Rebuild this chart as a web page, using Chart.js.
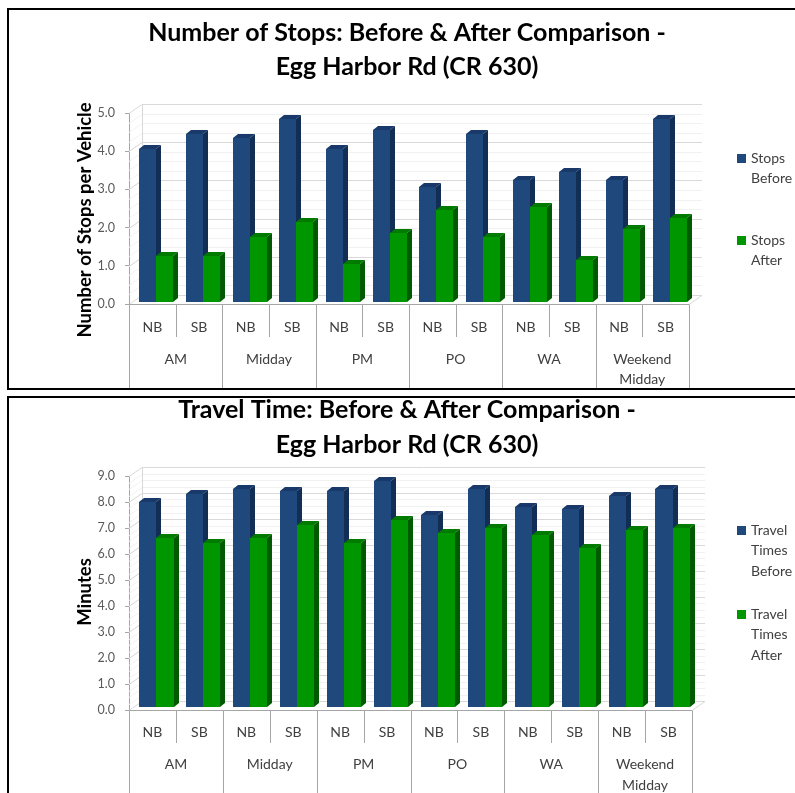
<!DOCTYPE html>
<html>
<head>
<meta charset="utf-8">
<script src="https://cdn.jsdelivr.net/npm/chart.js@4.4.1/dist/chart.umd.min.js"></script>
<style>
  html, body { margin: 0; padding: 0; background: #fff; width: 795px; height: 793px; overflow: hidden; }
  canvas { position: absolute; left: 0; }
  #c1 { top: 0; }
  #c2 { top: 392px; }
  .frame { position: absolute; border: 2px solid #000; box-sizing: border-box; pointer-events: none; }
  #f1 { left: 7px; top: 8px; width: 800px; height: 382px; }
  #f2 { left: 7px; top: 396px; width: 800px; height: 420px; }
</style>
</head>
<body>
<canvas id="c1" width="795" height="392"></canvas>
<canvas id="c2" width="795" height="401"></canvas>
<div class="frame" id="f1"></div>
<div class="frame" id="f2"></div>
<script>
// Time periods and directions along the category axis
const periods = ['AM', 'Midday', 'PM', 'PO', 'WA', 'Weekend Midday'];
const directions = ['NB', 'SB'];

// Number of stops per vehicle (NB, SB for each period)
const stopsBefore = [4.0, 4.4, 4.3, 4.8, 4.0, 4.5, 3.0, 4.4, 3.2, 3.4, 3.2, 4.8];
const stopsAfter  = [1.2, 1.2, 1.7, 2.1, 1.0, 1.8, 2.4, 1.7, 2.5, 1.1, 1.9, 2.2];

// Travel time in minutes (NB, SB for each period)
const timeBefore = [7.9, 8.2, 8.4, 8.3, 8.3, 8.7, 7.4, 8.4, 7.7, 7.6, 8.1, 8.4];
const timeAfter  = [6.5, 6.3, 6.5, 7.0, 6.3, 7.2, 6.7, 6.9, 6.6, 6.1, 6.8, 6.9];

// Value axis ranges
const stopsAxis = { min: 0, max: 5, step: 1 };
const timeAxis  = { min: 0, max: 9, step: 1 };

const dirLabels = periods.flatMap(() => directions);

const FACES = [
  { front: '#1f497d', top: '#18396a', side: '#132e55' },
  { front: '#009600', top: '#007b00', side: '#005a00' }
];
const FONT = 'Lato, "Open Sans", sans-serif';
const TEXT = '#404040';

function poly(ctx, pts) {
  ctx.beginPath();
  ctx.moveTo(pts[0][0], pts[0][1]);
  for (let i = 1; i < pts.length; i++) ctx.lineTo(pts[i][0], pts[i][1]);
  ctx.closePath();
  ctx.fill();
}

// Draws the 3-D walls, the extruded bars, the two-level category axis,
// the titles and the legend around the Chart.js scales.
const excel3d = {
  id: 'excel3d',
  beforeDatasetsDraw(chart, args, o) {
    const ctx = chart.ctx;
    const ys = chart.scales.y;
    const { left, right, top, bottom } = chart.chartArea;
    const [wx, wy] = o.wall;
    ctx.save();
    ctx.lineWidth = 1;

    // faint intermediate lines on the back wall
    ctx.strokeStyle = '#f1f1f1';
    for (let v = ys.min + o.minor; v < ys.max; v += o.minor) {
      const py = Math.round(ys.getPixelForValue(v)) + 0.5;
      ctx.beginPath();
      ctx.moveTo(left, py);
      ctx.lineTo(left + wx, py - wy);
      ctx.lineTo(right + wx, py - wy);
      ctx.stroke();
    }
    // major gridlines on side and back wall
    ctx.strokeStyle = '#d9d9d9';
    ys.ticks.forEach(t => {
      const py = Math.round(ys.getPixelForValue(t.value)) + 0.5;
      ctx.beginPath();
      ctx.moveTo(left, py);
      ctx.lineTo(left + wx, py - wy);
      ctx.lineTo(right + wx, py - wy);
      ctx.stroke();
    });
    // wall corner
    ctx.beginPath();
    ctx.moveTo(left + wx + 0.5, Math.round(top) - wy);
    ctx.lineTo(left + wx + 0.5, Math.round(bottom) - wy);
    ctx.stroke();
    // floor right edge
    ctx.beginPath();
    ctx.moveTo(right, bottom + 0.5);
    ctx.lineTo(right + wx, bottom + 0.5 - wy);
    ctx.stroke();

    // extruded bars, one category at a time so the next series hides the side face
    const metas = [chart.getDatasetMeta(0), chart.getDatasetMeta(1)];
    const n = chart.data.labels.length;
    const [bx, by] = o.depth;
    for (let i = 0; i < n; i++) {
      metas.forEach((m, k) => {
        const el = m.data[i];
        const c = FACES[k];
        const x1 = Math.round(el.x - el.width / 2 + o.shift[0]);
        const x2 = Math.round(el.x + el.width / 2 + o.shift[0]);
        const yt = Math.round(el.y - o.shift[1]);
        const yb = Math.round(el.base - o.shift[1]);
        ctx.fillStyle = c.front;
        ctx.fillRect(x1, yt, x2 - x1, yb - yt);
        ctx.fillStyle = c.top;
        poly(ctx, [[x1, yt], [x2, yt], [x2 + bx, yt - by], [x1 + bx, yt - by]]);
        ctx.fillStyle = c.side;
        poly(ctx, [[x2, yt], [x2 + bx, yt - by], [x2 + bx, yb - by], [x2, yb]]);
      });
    }
    ctx.restore();
    return false;
  },
  afterDraw(chart, args, o) {
    const ctx = chart.ctx;
    const xs = chart.scales.x;
    const { left, right, bottom } = chart.chartArea;
    const n = chart.data.labels.length;
    const slot = (right - left) / n;
    ctx.save();

    // category axis line and separators
    ctx.strokeStyle = '#a6a6a6';
    ctx.lineWidth = 1;
    const by = Math.round(bottom) + 0.5;
    ctx.beginPath();
    ctx.moveTo(left, by);
    ctx.lineTo(right, by);
    ctx.stroke();
    for (let i = 0; i <= n; i++) {
      const px = Math.round(left + i * slot) + 0.5;
      ctx.beginPath();
      ctx.moveTo(px, by);
      ctx.lineTo(px, i % 2 === 0 ? o.axisEnd : bottom + o.subHeight);
      ctx.stroke();
    }

    // direction and period labels
    ctx.fillStyle = TEXT;
    ctx.font = '14px ' + FONT;
    ctx.textAlign = 'center';
    ctx.textBaseline = 'middle';
    chart.data.labels.forEach((lab, i) => {
      ctx.fillText(lab, xs.getPixelForValue(i), bottom + o.subLabelY);
    });
    periods.forEach((p, g) => {
      const cx = left + (g * 2 + 1) * slot;
      const words = p.split(' ');
      words.forEach((w, j) => ctx.fillText(w, cx, bottom + o.groupLabelY + j * o.groupLineGap));
    });

    // chart title
    ctx.fillStyle = '#000';
    ctx.font = 'bold ' + o.titleSize + 'px ' + FONT;
    o.title.forEach((line, j) => ctx.fillText(line, o.titleX, o.titleY[j]));

    // value axis title
    ctx.save();
    ctx.translate(o.yTitleX, o.yTitleY);
    ctx.rotate(-Math.PI / 2);
    ctx.font = 'bold 18.5px ' + FONT;
    ctx.fillText(o.yTitle, 0, 0);
    ctx.restore();

    // legend
    ctx.textAlign = 'left';
    ctx.font = '14px ' + FONT;
    chart.data.datasets.forEach((ds, k) => {
      const lines = ds.label.split(' ');
      const y0 = o.legendY[k];
      ctx.fillStyle = FACES[k].front;
      ctx.fillRect(o.legendX, Math.round(y0 - 4.5), 9, 9);
      ctx.fillStyle = TEXT;
      lines.forEach((ln, j) => ctx.fillText(ln, o.legendX + 14, y0 + j * o.legendGap));
    });
    ctx.restore();
  }
};

function buildChart(id, spec) {
  const H = spec.height;
  return new Chart(document.getElementById(id), {
    type: 'bar',
    data: {
      labels: dirLabels,
      datasets: [
        { label: spec.labels[0], data: spec.before, backgroundColor: FACES[0].front },
        { label: spec.labels[1], data: spec.after, backgroundColor: FACES[1].front }
      ]
    },
    options: {
      responsive: false,
      animation: false,
      devicePixelRatio: 1,
      events: [],
      layout: {
        padding: { left: 20, right: 795 - spec.area.right, top: spec.area.top, bottom: H - spec.area.bottom }
      },
      datasets: { bar: { categoryPercentage: 0.73, barPercentage: 1.0 } },
      scales: {
        x: { display: false },
        y: {
          min: spec.axis.min,
          max: spec.axis.max,
          afterFit: s => { s.width = spec.area.left - 20; },
          ticks: {
            stepSize: spec.axis.step,
            padding: 10,
            color: '#595959',
            font: { family: FONT, size: 12.5 },
            callback: v => Number(v).toFixed(1)
          },
          grid: { drawOnChartArea: false, drawTicks: true, tickLength: 4, color: '#a6a6a6' },
          border: { display: true, color: '#a6a6a6' }
        }
      },
      plugins: {
        legend: { display: false },
        title: { display: false },
        tooltip: { enabled: false },
        excel3d: spec.deco
      }
    },
    plugins: [excel3d]
  });
}

buildChart('c1', {
  height: 392,
  labels: ['Stops Before', 'Stops After'],
  before: stopsBefore,
  after: stopsAfter,
  axis: stopsAxis,
  area: { left: 129, right: 689, top: 113, bottom: 304 },
  deco: {
    wall: [13, 9], minor: 0.25, depth: [5, 4], shift: [4, 2],
    axisEnd: 389, subHeight: 33, subLabelY: 23, groupLabelY: 55, groupLineGap: 20,
    title: ['Number of Stops: Before & After Comparison -', 'Egg Harbor Rd (CR 630)'],
    titleSize: 25, titleX: 407, titleY: [33, 67],
    yTitle: 'Number of Stops per Vehicle', yTitleX: 85, yTitleY: 220,
    legendX: 737, legendY: [158, 240], legendGap: 20
  }
});

buildChart('c2', {
  height: 401,
  labels: ['Travel Times Before', 'Travel Times After'],
  before: timeBefore,
  after: timeAfter,
  axis: timeAxis,
  area: { left: 129, right: 692, top: 84, bottom: 318 },
  deco: {
    wall: [13, 9], minor: 0.25, depth: [5, 4], shift: [4, 3],
    axisEnd: 401, subHeight: 33, subLabelY: 22, groupLabelY: 54, groupLineGap: 21,
    title: ['Travel Time: Before & After Comparison -', 'Egg Harbor Rd (CR 630)'],
    titleSize: 25, titleX: 407, titleY: [18, 53],
    yTitle: 'Minutes', yTitleX: 85, yTitleY: 200,
    legendX: 737, legendY: [138, 222], legendGap: 20.5
  }
});
</script>
</body>
</html>
